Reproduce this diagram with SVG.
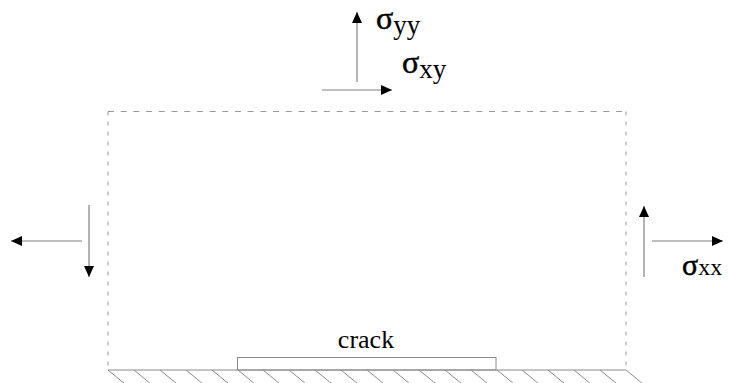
<svg xmlns="http://www.w3.org/2000/svg" width="729" height="383" viewBox="0 0 729 383">
<style>
.dash{fill:none;stroke:#9a9a9a;stroke-width:1}
.solid{fill:none;stroke:#8a8a8a;stroke-width:1}
.arr{fill:none;stroke:#808080;stroke-width:1.2;marker-end:url(#ah)}
.t{font-family:'Liberation Serif','Times New Roman',serif;fill:#000}
.s{stroke:#000;stroke-width:0.5}
</style>
<defs>
<marker id="ah" markerUnits="userSpaceOnUse" markerWidth="12" markerHeight="10" refX="11" refY="5" orient="auto">
<path d="M0,0 L11,5 L0,10 Z" fill="#000"/>
</marker>
</defs>
<g id="region">
<line class="dash" x1="108" y1="111.5" x2="627" y2="111.5" stroke-dasharray="6,6.7"/>
<line class="dash" x1="108" y1="111.5" x2="108" y2="370" stroke-dasharray="4,6"/>
<line class="dash" x1="626" y1="111.5" x2="626" y2="370" stroke-dasharray="4,6"/>
</g>
<g id="ground">
<line class="solid" x1="108" y1="370" x2="626" y2="370"/>
<g class="solid">
<path d="M108,370l17,14M134,370l17,14M160,370l17,14M186,370l17,14M212,370l17,14M238,370l17,14M263,370l17,14M289,370l17,14M315,370l17,14M341,370l17,14M367,370l17,14M393,370l17,14M419,370l17,14M445,370l17,14M471,370l17,14M497,370l17,14M522,370l17,14M548,370l17,14M574,370l17,14M600,370l17,14M626,370l17,14"/>
</g>
</g>
<g id="crack">
<rect class="solid" x="237.5" y="357.5" width="258.5" height="12.5"/>
<text class="t" x="366" y="348" font-size="26" text-anchor="middle">crack</text>
</g>
<g id="connectors">
<line class="arr" x1="357" y1="82" x2="357" y2="12"/>
<line class="arr" x1="322" y1="90" x2="392" y2="90"/>
<line class="arr" x1="82" y1="241" x2="11" y2="241"/>
<line class="arr" x1="89" y1="205" x2="89" y2="277"/>
<line class="arr" x1="644" y1="277" x2="644" y2="206"/>
<line class="arr" x1="652" y1="241" x2="723" y2="241"/>
</g>
<g id="label-syy">
<text class="t" x="376" y="29" font-size="32"><tspan class="s">σ</tspan><tspan font-size="27" dy="5">yy</tspan></text>
</g>
<g id="label-sxy">
<text class="t" x="402" y="73" font-size="32"><tspan class="s">σ</tspan><tspan font-size="27" dy="5">xy</tspan></text>
</g>
<g id="label-sxx">
<text class="t" x="682" y="275" font-size="30"><tspan class="s">σ</tspan><tspan font-size="24">xx</tspan></text>
</g>
</svg>
